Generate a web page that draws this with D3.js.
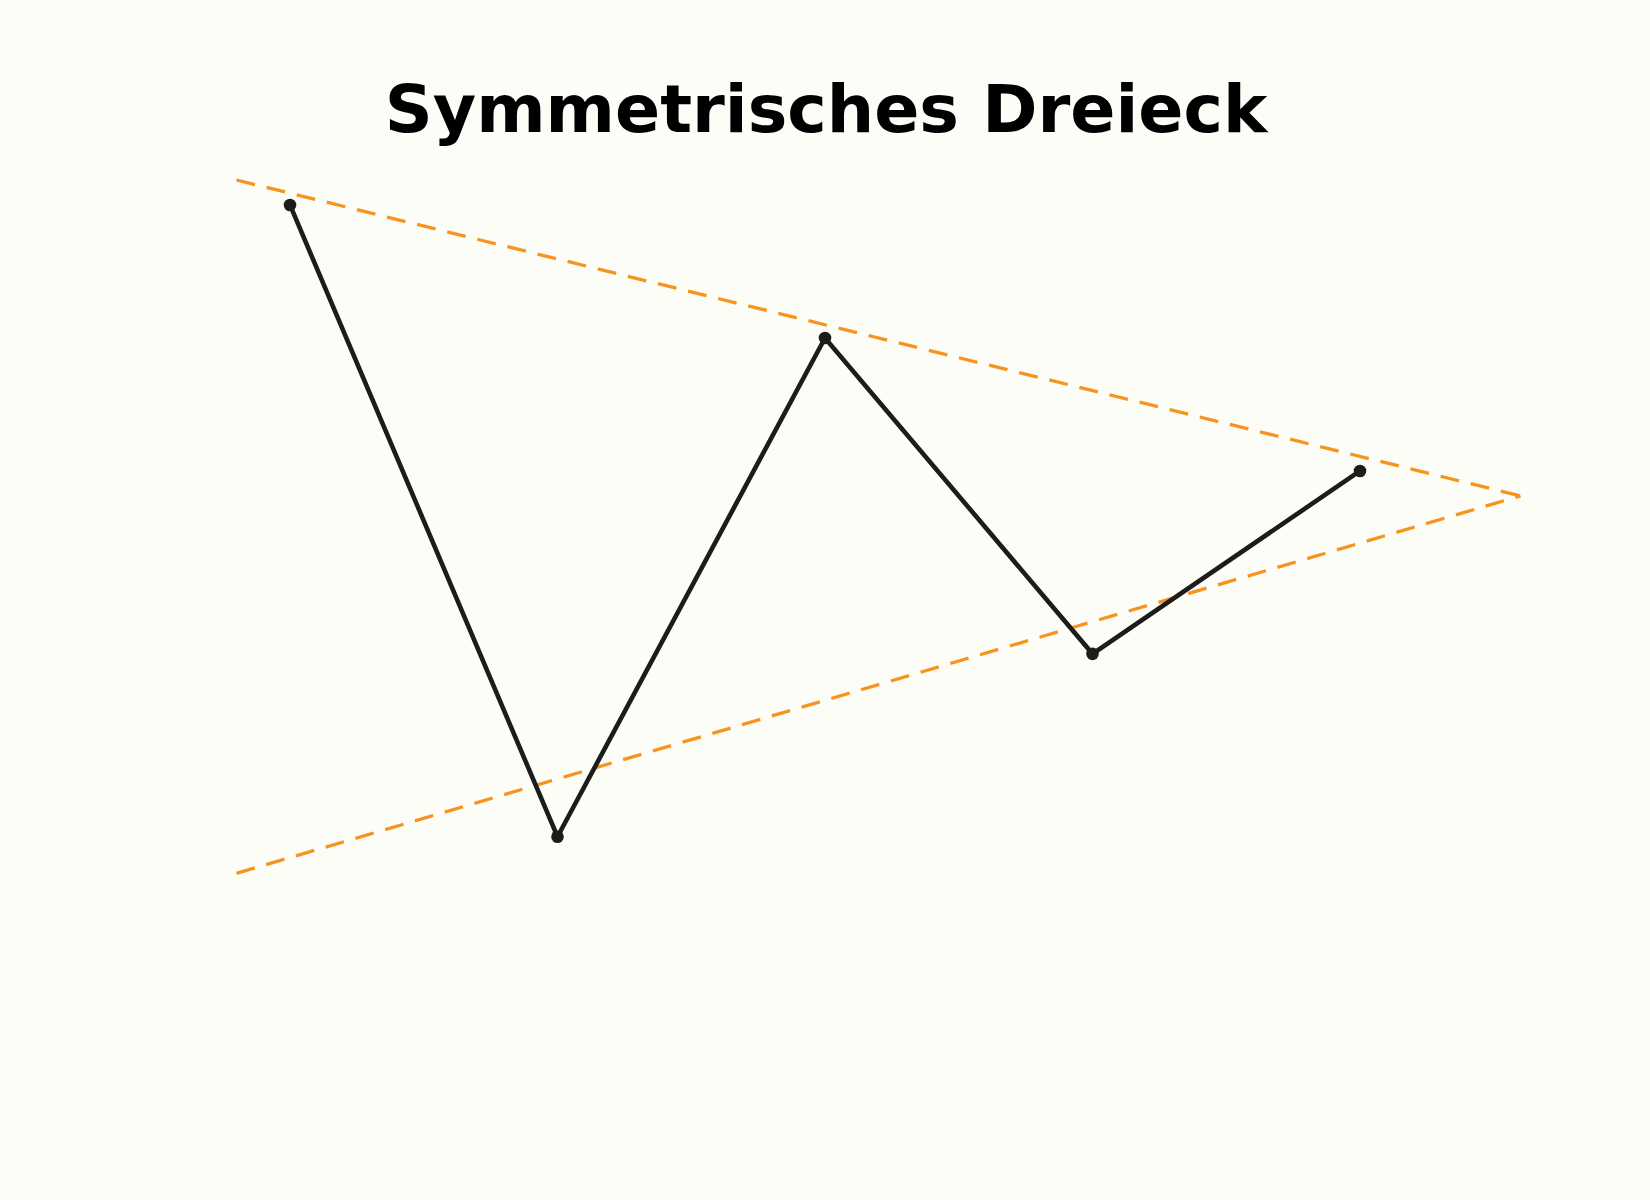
<!DOCTYPE html>
<html>
<head>
<meta charset="utf-8">
<script src="https://cdn.jsdelivr.net/npm/d3@7"></script>
<style>
  html, body { margin: 0; padding: 0; background: #fdfdf8; }
</style>
</head>
<body>
<div id="chart"></div>
<script>
var W = 1650
  , H = 1200
  ;

// price swings (index of the pivot, price)
var pivotX = [0, 1, 2, 3, 4];
var pivotY = [100, 62, 92, 73, 84];

// trend lines, from x = -0.2 to the apex
var trendX = [-0.2, 4.6];
var upperY = [101.5, 82.5];
var lowerY = [59.8, 82.5];

var title = 'Symmetrisches Dreieck';

var x = d3.scaleLinear().domain([-0.2, 4.6]).range([236.5, 1520.5])
  , y = d3.scaleLinear().domain([59.8, 101.5]).range([873.3, 180])
  ;

var svg = d3.select('#chart').append('svg')
            .attr('width', W).attr('height', H)
            .style('background', '#fdfdf8');

var line = d3.line()
  .x(function (d) { return x(d[0]); })
  .y(function (d) { return y(d[1]); });

// dashed trend lines
[upperY, lowerY].forEach(function (ys) {
  svg.append('path')
    .datum(d3.zip(trendX, ys))
    .attr('d', line)
    .attr('fill', 'none')
    .attr('stroke', '#f7931e')
    .attr('stroke-width', 3.3)
    .attr('stroke-dasharray', '19,12');
});

var pts = d3.zip(pivotX, pivotY);

svg.append('path')
  .datum(pts)
  .attr('d', line)
  .attr('fill', 'none')
  .attr('stroke', '#1c1c1c')
  .attr('stroke-width', 4.6)
  .attr('stroke-linejoin', 'miter');

svg.selectAll('circle.pivot').data(pts)
  .enter().append('circle')
  .attr('class', 'pivot')
  .attr('cx', function (d) { return x(d[0]); })
  .attr('cy', function (d) { return y(d[1]); })
  .attr('r', 6.3)
  .attr('fill', '#1c1c1c');

svg.append('text')
  .attr('x', 826).attr('y', 132)
  .attr('text-anchor', 'middle')
  .style('font-family', '"DejaVu Sans", sans-serif')
  .style('font-weight', 'bold')
  .style('font-size', '66.6px')
  .attr('fill', '#000')
  .text(title);
</script>
</body>
</html>
